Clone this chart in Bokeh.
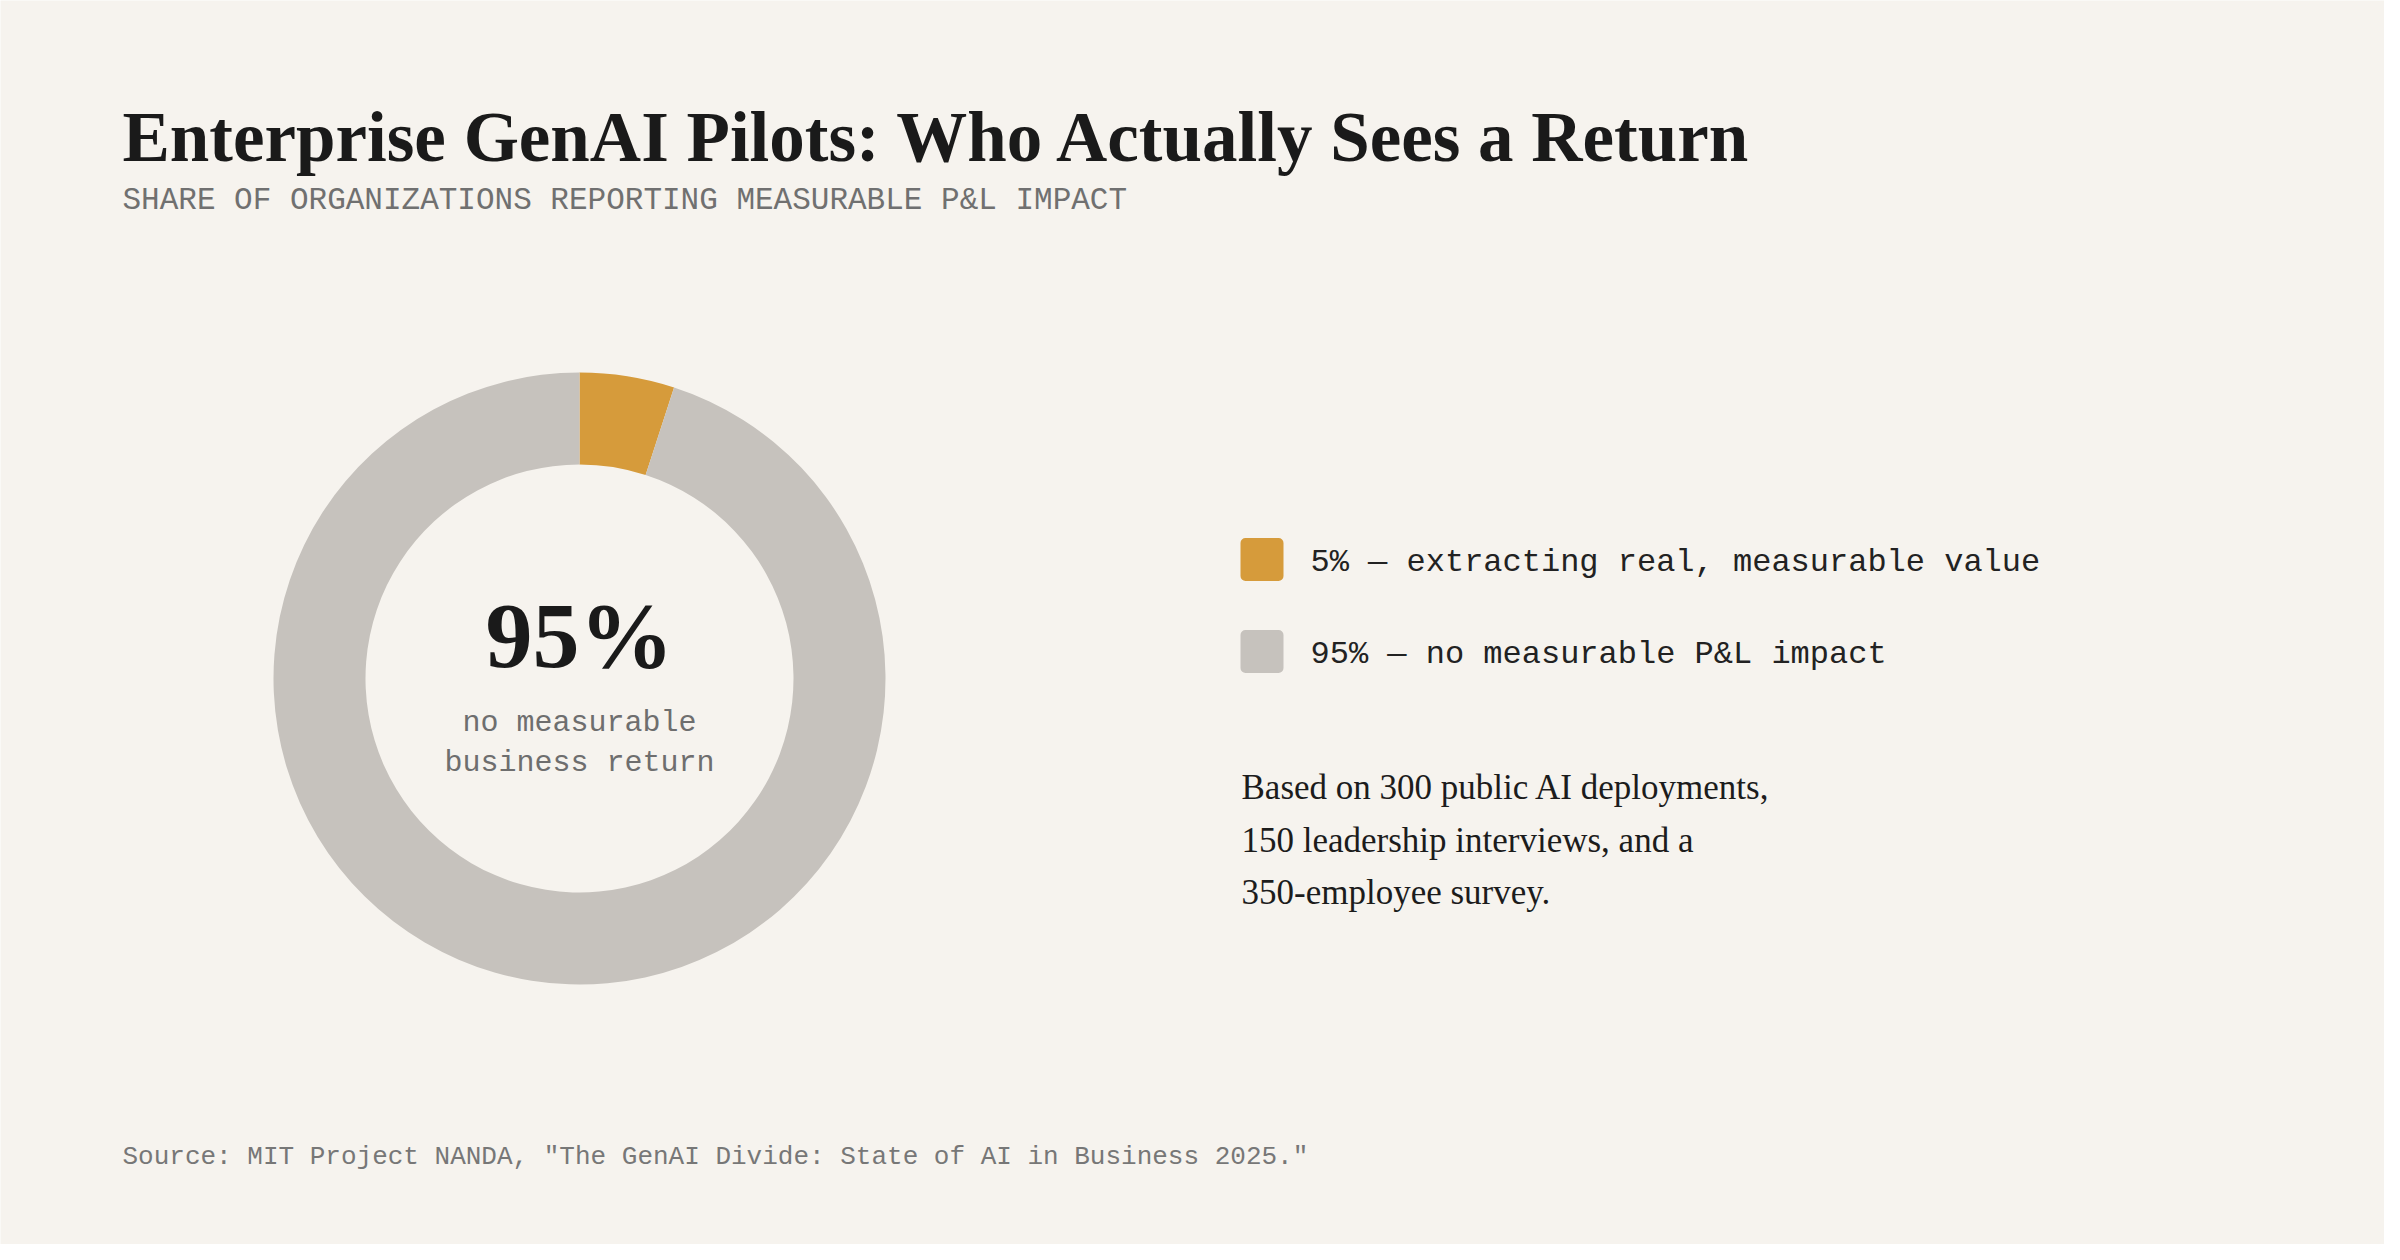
import numpy as np
from bokeh.plotting import figure
from bokeh.models import Range1d, ColumnDataSource
from bokeh.core.properties import value
from bokeh.embed import file_html
from bokeh.resources import INLINE

# ---- data ----
segments = ["extracting real, measurable value", "no measurable P&L impact"]
shares = [5, 95]
colors = ["#D69B3B", "#C6C2BD"]
legend_labels = ["5% — extracting real, measurable value", "95% — no measurable P&L impact"]
center_value = "95%"
center_caption = ["no measurable", "business return"]
title = "Enterprise GenAI Pilots: Who Actually Sees a Return"
subtitle = "SHARE OF ORGANIZATIONS REPORTING MEASURABLE P&L IMPACT"
note_lines = ["Based on 300 public AI deployments,", "150 leadership interviews, and a", "350-employee survey."]
source = 'Source: MIT Project NANDA, "The GenAI Divide: State of AI in Business 2025."'

W, H = 2384, 1244
M = 8
BG = "#F6F3EE"
SERIF = "Liberation Serif"
MONO = "Liberation Mono"
K = 0.3  # baseline correction factor


def X(x):
    return x - M


def Y(y):
    return H - (y - M)


def TY(y, size):
    return Y(y - K * size)


p = figure(width=W, height=H, output_backend="svg", toolbar_location=None,
           x_range=Range1d(0, W), y_range=Range1d(0, H), min_border=0,
           background_fill_color=BG, border_fill_color=BG, outline_line_color=None)
p.axis.visible = False
p.grid.visible = False

# ---- donut ----
frac = np.array(shares, dtype=float) / sum(shares)
cum = np.concatenate([[0], np.cumsum(frac)])
start = np.pi / 2 - 2 * np.pi * cum[:-1]
end = np.pi / 2 - 2 * np.pi * cum[1:]
cx, cy = X(587), Y(686)
src = ColumnDataSource(dict(start=start, end=end, color=colors, seg=segments))
p.annular_wedge(x=cx, y=cy, inner_radius=214, outer_radius=306,
                inner_radius_units="screen", outer_radius_units="screen",
                start_angle="start", end_angle="end", direction="clock",
                fill_color="color", line_color=None, source=src)

# center text
p.text(x=[cx], y=[TY(671, 94)], text=[center_value], text_font=value(SERIF), text_font_style="bold",
       text_font_size="94px", text_color="#1a1a1a", text_align="center", text_baseline="alphabetic")
p.text(x=[cx, cx], y=[TY(739, 30), TY(779, 30)], text=center_caption, text_font=value(MONO),
       text_font_size="30px", text_color="#6e6e6e", text_align="center", text_baseline="alphabetic")

# ---- legend ----
ly0, lstep = 567, 92
ys = [ly0 + i * lstep for i in range(len(legend_labels))]
p.quad(left=X(1248), right=X(1291), top=[Y(y - 21.5) for y in ys], bottom=[Y(y + 21.5) for y in ys],
       fill_color=colors, line_color=None, border_radius=5)
p.text(x=X(1318), y=[TY(y + 13, 32) for y in ys], text=legend_labels, text_font=value(MONO),
       text_font_size="32px", text_color="#222222", text_align="left", text_baseline="alphabetic")

# ---- note ----
p.text(x=X(1249), y=[TY(805, 35), TY(858, 35), TY(910, 35)], text=note_lines, text_font=value(SERIF),
       text_font_size="35px", text_color="#1c1c1c", text_align="left", text_baseline="alphabetic")

# ---- title, subtitle, source ----
p.text(x=[X(130)], y=[TY(166, 71)], text=[title], text_font=value(SERIF), text_font_style="bold",
       text_font_size="71px", text_color="#1a1a1a", text_baseline="alphabetic")
p.text(x=[X(130)], y=[TY(217, 31)], text=[subtitle], text_font=value(MONO),
       text_font_size="31px", text_color="#707070", text_baseline="alphabetic")
p.text(x=[X(130)], y=[TY(1172, 26)], text=[source], text_font=value(MONO),
       text_font_size="26px", text_color="#777777", text_baseline="alphabetic")

open("out.html", "w").write(file_html(p, INLINE))
